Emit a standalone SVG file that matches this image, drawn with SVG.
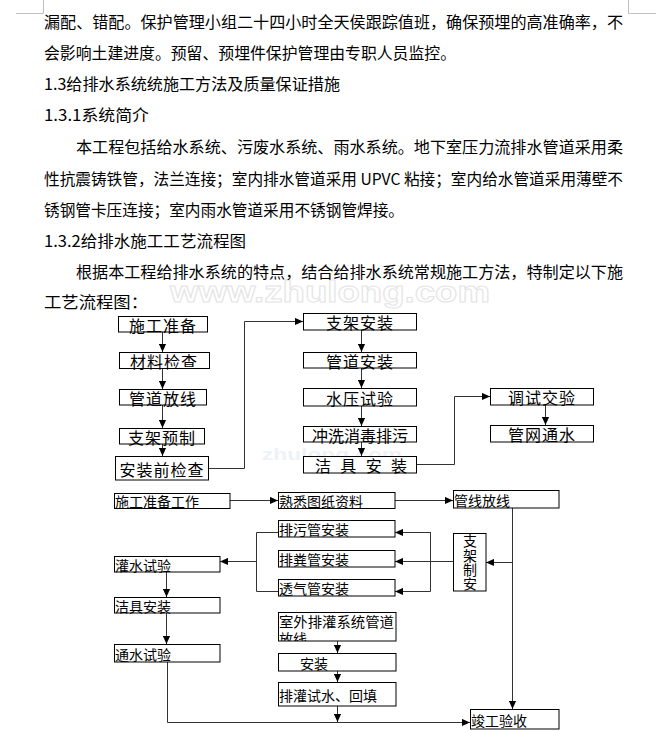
<svg xmlns="http://www.w3.org/2000/svg" width="672" height="732" viewBox="0 0 672 732">
<style>
.p{font-family:"Noto Sans CJK SC","Noto Sans",sans-serif;font-size:16px;fill:#000;dominant-baseline:central}
.b{fill:#fff;stroke:#000;stroke-width:1}
.t{font-family:"Noto Sans CJK SC","Noto Sans",sans-serif;font-size:16px;fill:#000;dominant-baseline:central;text-anchor:middle}
.s{font-family:"Noto Sans CJK SC","Noto Sans",sans-serif;font-size:14px;fill:#000;dominant-baseline:central}
.c{fill:none;stroke:#333;stroke-width:1}
.a{fill:none;stroke:#333;stroke-width:1;marker-end:url(#ah)}
.wm{font-family:"Liberation Sans",sans-serif;font-weight:bold;fill:none;stroke:#e4e4e4;stroke-width:1}
</style>
<defs>
<marker id="ah" viewBox="0 0 10 10" refX="10" refY="5" markerWidth="8" markerHeight="8" markerUnits="userSpaceOnUse" orient="auto"><path d="M0 0.5 L10 5 L0 9.5 Z" fill="#000"/></marker>
<clipPath id="clipOut"><rect x="278" y="612" width="118" height="29"/></clipPath>
</defs>
<rect width="672" height="732" fill="#fff"/>
<path d="M16 13.5 H43.5 V0" fill="none" stroke="#c0c0c0"/>
<path d="M628.5 0 V13.5 H656" fill="none" stroke="#c0c0c0"/>

<g id="watermark">
<text class="wm" x="170" y="302" font-size="30" textLength="320" lengthAdjust="spacingAndGlyphs">www.zhulong.com</text>
<text x="262" y="460" font-family="Liberation Sans,sans-serif" font-weight="bold" font-size="17" fill="#eef2f7" textLength="140" lengthAdjust="spacingAndGlyphs">zhulong.com</text>
</g>

<g id="body">
<text class="p" x="44" y="21" textLength="579" lengthAdjust="spacingAndGlyphs">漏配、错配。保护管理小组二十四小时全天侯跟踪值班，确保预埋的高准确率，不</text>
<text class="p" x="44" y="52" textLength="412" lengthAdjust="spacingAndGlyphs">会影响土建进度。预留、预埋件保护管理由专职人员监控。</text>
<text class="p" x="44" y="83" textLength="296" lengthAdjust="spacingAndGlyphs">1.3给排水系统统施工方法及质量保证措施</text>
<text class="p" x="44" y="114" textLength="105" lengthAdjust="spacingAndGlyphs">1.3.1系统简介</text>
<text class="p" x="76" y="146" textLength="547" lengthAdjust="spacingAndGlyphs">本工程包括给水系统、污废水系统、雨水系统。地下室压力流排水管道采用柔</text>
<text class="p" x="44" y="178" textLength="579" lengthAdjust="spacingAndGlyphs">性抗震铸铁管，法兰连接；室内排水管道采用 UPVC 粘接；室内给水管道采用薄壁不</text>
<text class="p" x="44" y="209" textLength="360" lengthAdjust="spacingAndGlyphs">锈钢管卡压连接；室内雨水管道采用不锈钢管焊接。</text>
<text class="p" x="44" y="240" textLength="202" lengthAdjust="spacingAndGlyphs">1.3.2给排水施工工艺流程图</text>
<text class="p" x="76" y="271" textLength="547" lengthAdjust="spacingAndGlyphs">根据本工程给排水系统的特点，结合给排水系统常规施工方法，特制定以下施</text>
<text class="p" x="44" y="301" textLength="104" lengthAdjust="spacingAndGlyphs">工艺流程图：</text>
<text class="p" x="86" y="739" textLength="174" lengthAdjust="spacingAndGlyphs">给排水工程施工要节措施</text>
</g>

<g id="connectors">
<path class="a" d="M162.5 332 V352"/>
<path class="a" d="M162.5 369 V389"/>
<path class="a" d="M162.5 405 V428"/>
<path class="a" d="M162.5 444 V456"/>
<path class="a" d="M209 468.5 H244.5 V321.5 H303"/>
<path class="a" d="M361.5 330 V352"/>
<path class="a" d="M361.5 368 V388"/>
<path class="a" d="M361.5 406 V426"/>
<path class="a" d="M361.5 442 V456"/>
<path class="a" d="M416 464.5 H454.5 V396.5 H490"/>
<path class="a" d="M545.5 405 V425"/>

<path class="a" d="M230 500.5 H278"/>
<path class="a" d="M395 500.5 H453"/>
<path class="a" d="M512.5 508 V709"/>
<path class="a" d="M512.5 562.5 H486"/>
<path class="a" d="M453 561.5 H395"/>
<path class="c" d="M430.5 532 V591.5"/>
<path class="a" d="M430.5 532.5 H395"/>
<path class="a" d="M430.5 591.5 H395"/>
<path class="c" d="M278 532.5 H256.5 V591.5 H278"/>
<path class="a" d="M256.5 561.5 H220"/>
<path class="a" d="M166.5 572 V597"/>
<path class="a" d="M166.5 613 V644"/>
<path class="a" d="M167.5 662 V722.5 H470"/>
<path class="a" d="M337.5 641 V653"/>
<path class="a" d="M337.5 671 V682"/>
<path class="a" d="M337.5 706 V722"/>
</g>

<g id="n-sgzb"><rect class="b" x="118.5" y="316.5" width="89" height="15.5"/><text class="t" x="163" y="324.5" letter-spacing="1">施工准备</text></g>
<g id="n-cljc"><rect class="b" x="119.5" y="352.5" width="90" height="16"/><text class="t" x="164" y="361" letter-spacing="1">材料检查</text></g>
<g id="n-gdfx"><rect class="b" x="119.5" y="389.5" width="87" height="15.5"/><text class="t" x="163" y="397.5" letter-spacing="1">管道放线</text></g>
<g id="n-zjyz"><rect class="b" x="119.5" y="428.5" width="85" height="15.5"/><text class="t" x="162" y="436.5" letter-spacing="1">支架预制</text></g>
<g id="n-azqjc"><rect class="b" x="115.5" y="456.5" width="93" height="23.5"/><text class="t" x="162" y="468.5" letter-spacing="1">安装前检查</text></g>

<g id="n-zjaz"><rect class="b" x="303.5" y="313.5" width="113" height="16.5"/><text class="t" x="360" y="322" letter-spacing="1">支架安装</text></g>
<g id="n-gdaz"><rect class="b" x="303.5" y="352.5" width="113" height="15.5"/><text class="t" x="360" y="360.5" letter-spacing="1">管道安装</text></g>
<g id="n-sysy"><rect class="b" x="303.5" y="388.5" width="113" height="17.5"/><text class="t" x="360" y="397.5" letter-spacing="1">水压试验</text></g>
<g id="n-cxxd"><rect class="b" x="303.5" y="426.5" width="113" height="15.5"/><text class="t" x="360" y="434.5">冲洗消毒排污</text></g>
<g id="n-jjaz1"><rect class="b" x="303.5" y="456.5" width="113" height="16.5"/><text class="p" x="315" y="465" textLength="92" lengthAdjust="spacing">洁 具 安 装</text></g>

<g id="n-tsjy"><rect class="b" x="490.5" y="388.5" width="103" height="16.5"/><text class="t" x="542" y="397" letter-spacing="1">调试交验</text></g>
<g id="n-gwts"><rect class="b" x="490.5" y="425.5" width="103" height="16.5"/><text class="t" x="542" y="434" letter-spacing="1">管网通水</text></g>

<g id="n-sgzbgz"><rect class="b" x="114.5" y="493.5" width="115.5" height="15"/><text class="s" x="115" y="501">施工准备工作</text></g>
<g id="n-sxtz"><rect class="b" x="278.5" y="492.5" width="116.5" height="16"/><text class="s" x="279" y="500.5">熟悉图纸资料</text></g>
<g id="n-gxfx"><rect class="b" x="453.5" y="490.5" width="105.5" height="17.5"/><text class="s" x="454" y="499.5">管线放线</text></g>
<g id="n-zjza"><rect class="b" x="453.5" y="533.5" width="32.5" height="57.5"/>
<text class="s" x="470" y="534" style="writing-mode:vertical-rl;dominant-baseline:auto" letter-spacing="0.3">支架制安</text></g>
<g id="n-pwg"><rect class="b" x="278.5" y="520.5" width="116.5" height="16.5"/><text class="s" x="279" y="529">排污管安装</text></g>
<g id="n-pfg"><rect class="b" x="278.5" y="550.5" width="116.5" height="16.5"/><text class="s" x="279" y="559">排粪管安装</text></g>
<g id="n-tqg"><rect class="b" x="278.5" y="579.5" width="116.5" height="16.5"/><text class="s" x="279" y="588">透气管安装</text></g>
<g id="n-gssy"><rect class="b" x="114.5" y="556.5" width="105.5" height="15.5"/><text class="s" x="115" y="564.5">灌水试验</text></g>
<g id="n-jjaz2"><rect class="b" x="114.5" y="597.5" width="105.5" height="15.5"/><text class="s" x="115" y="605.5">洁具安装</text></g>
<g id="n-tssy"><rect class="b" x="114.5" y="644.5" width="105.5" height="17.5"/><text class="s" x="115" y="653.5">通水试验</text></g>
<g id="n-swpg"><rect class="b" x="278.5" y="612.5" width="117.5" height="28.5"/><text class="s" x="279" y="621" textLength="115" lengthAdjust="spacingAndGlyphs">室外排灌系统管道</text>
<text class="s" x="279" y="638" font-size="12" clip-path="url(#clipOut)">放线</text></g>
<g id="n-az"><rect class="b" x="278.5" y="653.5" width="117.5" height="17.5"/><text class="s" x="300" y="662.5">安装</text></g>
<g id="n-pgss"><rect class="b" x="278.5" y="682.5" width="117.5" height="23.5"/><text class="s" x="279" y="694.5">排灌试水、回填</text></g>
<g id="n-jgys"><rect class="b" x="470.5" y="709.5" width="88.5" height="19.5"/><text class="s" x="471" y="719.5">竣工验收</text></g>
</svg>
